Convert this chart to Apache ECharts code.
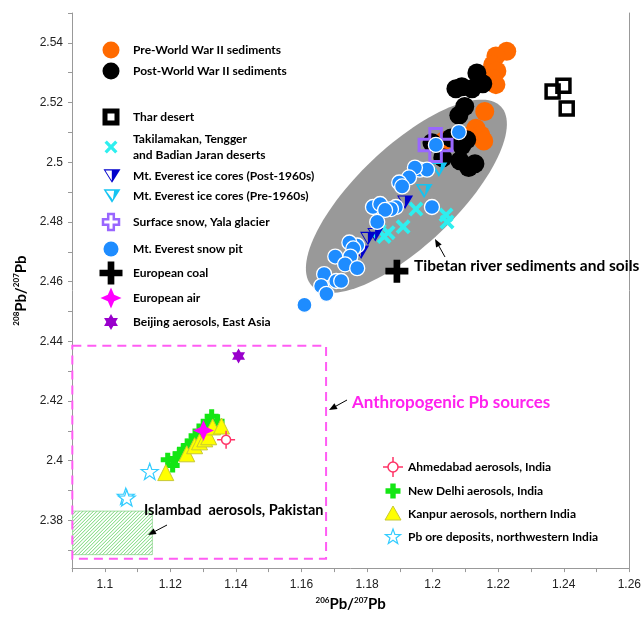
<!DOCTYPE html>
<html>
<head>
<meta charset="utf-8">
<script src="https://cdn.jsdelivr.net/npm/echarts@6/dist/echarts.min.js"></script>
<style>
  html, body { margin: 0; padding: 0; background: #ffffff; }
  #chart { width: 644px; height: 617px; }
</style>
</head>
<body>
<div id="chart"></div>
<script>
// ---- axes -------------------------------------------------------------
const xRange = [1.09, 1.26];
const yRange = [2.364, 2.55];
const xTicks = [1.09, 1.10, 1.11, 1.12, 1.13, 1.14, 1.15, 1.16, 1.17, 1.18, 1.19, 1.20, 1.21, 1.22, 1.23, 1.24, 1.25, 1.26];
const xTickLabels = [1.1, 1.12, 1.14, 1.16, 1.18, 1.2, 1.22, 1.24, 1.26];
const yTicks = [2.37, 2.38, 2.39, 2.40, 2.41, 2.42, 2.43, 2.44, 2.45, 2.46, 2.47, 2.48, 2.49, 2.50, 2.51, 2.52, 2.53, 2.54, 2.55];
const yTickLabels = [2.38, 2.4, 2.42, 2.44, 2.46, 2.48, 2.5, 2.52, 2.54];

// ---- isotope ratios [206Pb/207Pb, 208Pb/207Pb] -------------------------
const preWW2Sediments = [
  [1.2226, 2.5372], [1.2193, 2.5356], [1.2183, 2.5326], [1.2196, 2.5306], [1.2183, 2.5280],
  [1.2193, 2.5260], [1.2159, 2.5170], [1.2132, 2.5114], [1.2147, 2.5091], [1.2156, 2.5071],
  [1.2110, 2.5088], [1.2034, 2.5071]
];
const postWW2Sediments = [
  [1.2071, 2.5246], [1.2089, 2.5253], [1.2135, 2.5299], [1.2153, 2.5263], [1.2120, 2.5246],
  [1.2098, 2.5187], [1.2080, 2.5157], [1.2104, 2.5075], [1.2089, 2.5055], [1.2083, 2.5005],
  [1.2129, 2.4995], [1.2110, 2.4982], [1.2031, 2.5015], [1.1998, 2.5065], [1.2056, 2.5081]
];
const tharDesert = [[1.2399, 2.5256], [1.2366, 2.5237], [1.2409, 2.5180]];
const chineseDeserts = [
  [1.1949, 2.4843], [1.1910, 2.4784], [1.1864, 2.4764], [1.1852, 2.4751],
  [1.2041, 2.4823], [1.2044, 2.4800], [1.1837, 2.4770]
];
const iceCoresPost1960 = [[1.1916, 2.4866], [1.1825, 2.4757], [1.1803, 2.4744], [1.1782, 2.4698]];
const iceCoresPre1960 = [[1.2019, 2.4975], [1.1974, 2.4903]];
const yalaSurfaceSnow = [[1.2009, 2.5058]];
const everestSnowPit = [
  [1.2080, 2.5101], [1.2010, 2.5058], [1.1961, 2.4975], [1.1983, 2.4975], [1.1946, 2.4982],
  [1.1928, 2.4949], [1.1898, 2.4932], [1.1907, 2.4919], [1.1998, 2.4850], [1.1888, 2.4850],
  [1.1873, 2.4843], [1.1818, 2.4850], [1.1840, 2.4860], [1.1855, 2.4840], [1.1831, 2.4800],
  [1.1770, 2.4721], [1.1746, 2.4731], [1.1758, 2.4711], [1.1749, 2.4684], [1.1703, 2.4684],
  [1.1733, 2.4658], [1.1770, 2.4645], [1.1669, 2.4625], [1.1706, 2.4602], [1.1721, 2.4602],
  [1.1660, 2.4585], [1.1676, 2.4559], [1.1609, 2.4522]
];
const europeanCoal = [[1.1891, 2.4635]];
const europeanAir = [[1.1301, 2.4101]];
const beijingAerosols = [[1.1408, 2.4351]];
const ahmedabadAerosols = [[1.1370, 2.4070]];
const newDelhiAerosols = [
  [1.1207, 2.3984], [1.1192, 2.4003], [1.1216, 2.4007], [1.1228, 2.4023], [1.1241, 2.4036],
  [1.1253, 2.4050], [1.1265, 2.4066], [1.1277, 2.4083], [1.1289, 2.4099], [1.1301, 2.4116],
  [1.1314, 2.4132], [1.1326, 2.4149], [1.1344, 2.4132]
];
const kanpurAerosols = [
  [1.1186, 2.3960], [1.1250, 2.4023], [1.1274, 2.4050], [1.1289, 2.4063],
  [1.1305, 2.4073], [1.1317, 2.4080], [1.1329, 2.4113], [1.1356, 2.4116]
];
const pbOreDeposits = [[1.1137, 2.3964], [1.1064, 2.3881], [1.1067, 2.3875]];

// ---- source fields --------------------------------------------------------
const tibetEllipseCenter = [1.1920, 2.4886];
const tibetEllipseMajorTip = [1.2208, 2.5187];
const tibetEllipseMinorTip = [1.1815, 2.5005];
const anthropogenicBoxX = [1.0901, 1.1675];
const anthropogenicBoxY = [2.3671, 2.4385];
const islamabadBoxX = [1.0902, 1.1145];
const islamabadBoxY = [2.3685, 2.3831];

// ---- marker outlines (unit square, y down) -------------------------------
const SHAPES = {
  xMark: [[[-1, -0.64], [-0.64, -1], [0, -0.36], [0.64, -1], [1, -0.64], [0.36, 0], [1, 0.64], [0.64, 1], [0, 0.36], [-0.64, 1], [-1, 0.64], [-0.36, 0]]],
  plusCoal: [[[-0.29, -1], [0.29, -1], [0.29, -0.29], [1, -0.29], [1, 0.29], [0.29, 0.29], [0.29, 1], [-0.29, 1], [-0.29, 0.29], [-1, 0.29], [-1, -0.29], [-0.29, -0.29]]],
  plusWide: [[[-0.35, -1], [0.35, -1], [0.35, -0.35], [1, -0.35], [1, 0.35], [0.35, 0.35], [0.35, 1], [-0.35, 1], [-0.35, 0.35], [-1, 0.35], [-1, -0.35], [-0.35, -0.35]]],
  plusBold: [[[-0.36, -1], [0.36, -1], [0.36, -0.36], [1, -0.36], [1, 0.36], [0.36, 0.36], [0.36, 1], [-0.36, 1], [-0.36, 0.36], [-1, 0.36], [-1, -0.36], [-0.36, -0.36]]],
  triPost: [[[-1, -0.9], [1, -0.9], [0, 0.9]], [[-0.78, -0.75], [-0.02, 0.62], [-0.02, -0.75]]],
  triPre: [[[-1, -0.9], [1, -0.9], [0, 0.9]], [[-0.7, -0.7], [0.1, 0.5], [0.25, -0.7]]],
  star4: [[[0, -1], [0.3, -0.3], [1, 0], [0.3, 0.3], [0, 1], [-0.3, 0.3], [-1, 0], [-0.3, -0.3]]],
  hexagram: [[[0, -1], [0.866, 0.5], [-0.866, 0.5]], [[0, 1], [-0.866, -0.5], [0.866, -0.5]]],
  star5: [[[0, -1], [0.2351, -0.3236], [0.9511, -0.309], [0.3804, 0.1236], [0.5878, 0.809], [0, 0.4], [-0.5878, 0.809], [-0.3804, 0.1236], [-0.9511, -0.309], [-0.2351, -0.3236]]]
};
function toSymbol(polys) {
  return 'path://' + polys.map(function (p) {
    return 'M' + p.map(function (pt) { return pt[0] + ',' + pt[1]; }).join(' L') + ' Z';
  }).join(' ');
}
const crosshairCircle = 'path://M-5,0 A5,5 0 1,1 5,0 A5,5 0 1,1 -5,0 Z M-10,0 L-5,0 M5,0 L10,0 M0,-10 L0,-5 M0,5 L0,10';

const C = {
  orange: '#FF6A00', black: '#000000', cyan: '#2EEFEF', navy: '#0000CC', sky: '#14C4F2',
  lilac: '#9966FF', blue: '#1E8CFF', magenta: '#FF00FF', purple: '#9900CC',
  crimson: '#FF3366', green: '#14E614', yellow: '#FFFF00', ore: '#33CCFF'
};

function scatter(name, data, symbol, size, itemStyle) {
  return {
    type: 'scatter', name: name, data: data, symbol: symbol, symbolSize: size,
    symbolKeepAspect: true, itemStyle: Object.assign({ opacity: 1 }, itemStyle), z: 3, silent: true
  };
}

const chart = echarts.init(document.getElementById('chart'), null, { renderer: 'canvas' });

const tickFont = { fontFamily: 'Liberation Sans', fontSize: 12, color: '#222' };
const nameRich = {
  sup: { fontFamily: 'Lato', fontWeight: 'bold', fontSize: 8, lineHeight: 9, verticalAlign: 'top', color: '#000' },
  b: { fontFamily: 'Lato', fontWeight: 'bold', fontSize: 15, lineHeight: 17, color: '#000' }
};

// ---- legend (drawn as graphics) -------------------------------------------
const legendFont = 'bold 12px Lato';
function label(x, y, text, font, color) {
  return { type: 'text', z: 100, silent: true,
    style: { x: x, y: y, text: text, font: font || legendFont, fill: color || '#000',
      textAlign: 'left', textVerticalAlign: 'middle', align: 'left', verticalAlign: 'middle', lineHeight: 16 } };
}
function polyIcon(polys, cx, cy, w, h, fills, stroke, lw) {
  return polys.map(function (p, i) {
    return { type: 'polygon', z: 100, silent: true,
      shape: { points: p.map(function (pt) { return [cx + pt[0] * w / 2, cy + pt[1] * h / 2]; }) },
      style: { fill: fills[Math.min(i, fills.length - 1)], stroke: stroke || null, lineWidth: lw || 0 } };
  });
}
function circleIcon(cx, cy, r, fill, stroke, lw) {
  return { type: 'circle', z: 100, silent: true, shape: { cx: cx, cy: cy, r: r },
    style: { fill: fill, stroke: stroke || null, lineWidth: lw || 0 } };
}
function arrow(x1, y1, x2, y2) {
  const a = Math.atan2(y2 - y1, x2 - x1), L = 8, W = 3.2;
  const bx = x2 - L * Math.cos(a), by = y2 - L * Math.sin(a);
  return [
    { type: 'line', z: 100, silent: true, shape: { x1: x1, y1: y1, x2: bx, y2: by }, style: { stroke: '#000', lineWidth: 1 } },
    { type: 'polygon', z: 100, silent: true,
      shape: { points: [[x2, y2], [bx + W * Math.sin(a), by - W * Math.cos(a)], [bx - W * Math.sin(a), by + W * Math.cos(a)]] },
      style: { fill: '#000' } }
  ];
}

const LX = 111, TX = 133, RX = 393, RTX = 408;
let graphics = [];
graphics.push(circleIcon(LX, 50, 8.5, C.orange), label(TX, 50, 'Pre-World War II sediments'));
graphics.push(circleIcon(LX, 71, 8.5, C.black), label(TX, 71, 'Post-World War II sediments'));
graphics.push({ type: 'rect', z: 100, silent: true, shape: { x: LX - 6, y: 117 - 6, width: 12, height: 12 },
  style: { fill: '#fff', stroke: '#000', lineWidth: 5 } }, label(TX, 117, 'Thar desert'));
graphics = graphics.concat(polyIcon(SHAPES.xMark, LX, 147, 13, 13, [C.cyan]));
graphics.push(label(TX, 147, 'Takilamakan, Tengger\nand Badian Jaran deserts'));
graphics = graphics.concat(polyIcon(SHAPES.triPost, LX + 1, 176, 17, 15, [C.navy, '#fff']));
graphics.push(label(TX, 176, 'Mt. Everest ice cores (Post-1960s)'));
graphics = graphics.concat(polyIcon(SHAPES.triPre, LX + 1, 196, 17, 15, [C.sky, '#fff']));
graphics.push(label(TX, 196, 'Mt. Everest ice cores (Pre-1960s)'));
graphics = graphics.concat(polyIcon(SHAPES.plusWide, LX, 222, 16, 16, ['#fff'], C.lilac, 2.5));
graphics.push(label(TX, 222, 'Surface snow, Yala glacier'));
graphics.push(circleIcon(LX, 249, 7.5, C.blue), label(TX, 249, 'Mt. Everest snow pit'));
graphics = graphics.concat(polyIcon(SHAPES.plusCoal, LX, 273, 23, 23, [C.black]));
graphics.push(label(TX, 273, 'European coal'));
graphics = graphics.concat(polyIcon(SHAPES.star4, LX, 298, 21, 21, [C.magenta]));
graphics.push(label(TX, 298, 'European air'));
graphics = graphics.concat(polyIcon(SHAPES.hexagram, LX, 322, 16, 16, [C.purple, C.purple]));
graphics.push(label(TX, 322, 'Beijing aerosols, East Asia'));

graphics.push(circleIcon(RX, 467, 5, '#fff', C.crimson, 1.5),
  { type: 'line', z: 100, silent: true, shape: { x1: RX - 10, y1: 467, x2: RX - 5, y2: 467 }, style: { stroke: C.crimson, lineWidth: 1.5 } },
  { type: 'line', z: 100, silent: true, shape: { x1: RX + 5, y1: 467, x2: RX + 10, y2: 467 }, style: { stroke: C.crimson, lineWidth: 1.5 } },
  { type: 'line', z: 100, silent: true, shape: { x1: RX, y1: 457, x2: RX, y2: 462 }, style: { stroke: C.crimson, lineWidth: 1.5 } },
  { type: 'line', z: 100, silent: true, shape: { x1: RX, y1: 472, x2: RX, y2: 477 }, style: { stroke: C.crimson, lineWidth: 1.5 } },
  label(RTX, 467, 'Ahmedabad aerosols, India'));
graphics = graphics.concat(polyIcon(SHAPES.plusBold, RX, 491, 15, 15, [C.green]));
graphics.push(label(RTX, 491, 'New Delhi aerosols, India'));
graphics.push({ type: 'polygon', z: 100, silent: true, shape: { points: [[RX, 506], [RX + 8, 520], [RX - 8, 520]] },
  style: { fill: C.yellow, stroke: '#C8C832', lineWidth: 1 } }, label(RTX, 514, 'Kanpur aerosols, northern India'));
graphics = graphics.concat(polyIcon(SHAPES.star5, RX, 537, 16, 16, ['#fff'], C.ore, 1.2));
graphics.push(label(RTX, 537, 'Pb ore deposits, northwestern India'));

// annotations
graphics.push(label(414, 266, 'Tibetan river sediments and soils', 'bold 15.5px Lato'));
graphics = graphics.concat(arrow(445, 257, 435, 239));
graphics.push(label(352, 403, 'Anthropogenic Pb sources', 'bold 17px Lato', '#FF22EE'));
graphics = graphics.concat(arrow(347, 400, 329, 410));
graphics.push(label(144, 510, 'Islambad  aerosols, Pakistan', 'bold 14.5px Lato'));
graphics = graphics.concat(arrow(167, 525, 148, 535));

// ---- series ---------------------------------------------------------------
const series = [
  {
    type: 'custom', name: 'Tibetan river sediments and soils', z: 1, silent: true,
    data: [tibetEllipseCenter],
    renderItem: function (params, api) {
      const c = api.coord(tibetEllipseCenter);
      const a = api.coord(tibetEllipseMajorTip);
      const b = api.coord(tibetEllipseMinorTip);
      const pts = [];
      for (let i = 0; i < 120; i++) {
        const t = i / 120 * Math.PI * 2;
        pts.push([
          c[0] + Math.cos(t) * (a[0] - c[0]) + Math.sin(t) * (b[0] - c[0]),
          c[1] + Math.cos(t) * (a[1] - c[1]) + Math.sin(t) * (b[1] - c[1])
        ]);
      }
      return { type: 'polygon', shape: { points: pts }, style: { fill: '#999999' } };
    }
  },
  {
    type: 'custom', name: 'Anthropogenic Pb sources', z: 4, silent: true,
    data: [[anthropogenicBoxX[0], anthropogenicBoxY[0]]],
    renderItem: function (params, api) {
      const p0 = api.coord([anthropogenicBoxX[0], anthropogenicBoxY[1]]);
      const p1 = api.coord([anthropogenicBoxX[1], anthropogenicBoxY[0]]);
      return { type: 'rect', shape: { x: p0[0], y: p0[1], width: p1[0] - p0[0], height: p1[1] - p0[1] },
        style: { fill: null, stroke: '#FF5CF4', lineWidth: 2, lineDash: [9, 6] } };
    }
  },
  {
    type: 'custom', name: 'Islambad aerosols, Pakistan', z: 1, silent: true,
    data: [[islamabadBoxX[0], islamabadBoxY[0]]],
    renderItem: function (params, api) {
      const p0 = api.coord([islamabadBoxX[0], islamabadBoxY[1]]);
      const p1 = api.coord([islamabadBoxX[1], islamabadBoxY[0]]);
      const x0 = p0[0], y0 = p0[1], x1 = p1[0], y1 = p1[1];
      const children = [{ type: 'rect', shape: { x: x0, y: y0, width: x1 - x0, height: y1 - y0 },
        style: { fill: '#fff', stroke: '#A6DCA6', lineWidth: 1 } }];
      for (let s = x0 + y0 + 3.5; s < x1 + y1; s += 3.5) {
        const xs = Math.max(x0, s - y1), xe = Math.min(x1, s - y0);
        if (xe > xs) {
          children.push({ type: 'line', shape: { x1: xs, y1: s - xs, x2: xe, y2: s - xe },
            style: { stroke: '#74D874', lineWidth: 1 } });
        }
      }
      return { type: 'group', children: children };
    }
  },
  scatter('Pre-World War II sediments', preWW2Sediments, 'circle', 19, { color: C.orange }),
  scatter('Post-World War II sediments', postWW2Sediments, 'circle', 19, { color: C.black }),
  scatter('Thar desert', tharDesert, 'rect', 13, { color: 'rgba(0,0,0,0)', borderColor: '#000', borderWidth: 3.5 }),
  scatter('Takilamakan, Tengger and Badian Jaran deserts', chineseDeserts, toSymbol(SHAPES.xMark), 15, { color: C.cyan }),
  scatter('Mt. Everest ice cores (Post-1960s)', iceCoresPost1960, toSymbol(SHAPES.triPost), [16, 15], { color: C.navy }),
  scatter('Mt. Everest ice cores (Pre-1960s)', iceCoresPre1960, toSymbol(SHAPES.triPre), [17, 16], { color: C.sky }),
  scatter('Surface snow, Yala glacier', yalaSurfaceSnow, toSymbol(SHAPES.plusWide), 33, { color: 'rgba(0,0,0,0)', borderColor: C.lilac, borderWidth: 3 }),
  scatter('Mt. Everest snow pit', everestSnowPit, 'circle', 15, { color: C.blue, borderColor: '#fff', borderWidth: 1.3 }),
  scatter('European coal', europeanCoal, toSymbol(SHAPES.plusCoal), 23, { color: C.black }),
  scatter('New Delhi aerosols, India', newDelhiAerosols, toSymbol(SHAPES.plusBold), 14, { color: C.green }),
  scatter('Kanpur aerosols, northern India', kanpurAerosols, 'triangle', 16, { color: C.yellow, borderColor: '#C8C832', borderWidth: 1 }),
  scatter('Ahmedabad aerosols, India', ahmedabadAerosols, crosshairCircle, 18, { color: '#fff', borderColor: C.crimson, borderWidth: 1.5 }),
  scatter('Pb ore deposits, northwestern India', pbOreDeposits, toSymbol(SHAPES.star5), 17, { color: '#fff', borderColor: C.ore, borderWidth: 1.2 }),
  scatter('European air', europeanAir, toSymbol(SHAPES.star4), 21, { color: C.magenta }),
  scatter('Beijing aerosols, East Asia', beijingAerosols, toSymbol(SHAPES.hexagram), 15, { color: C.purple })
];

chart.setOption({
  animation: false,
  backgroundColor: '#ffffff',
  grid: { left: 72, right: 13, top: 13, bottom: 42, containLabel: false },
  xAxis: {
    type: 'value', min: xRange[0], max: xRange[1],
    name: '{sup|206}{b|Pb/}{sup|207}{b|Pb}', nameLocation: 'middle', nameGap: 26,
    nameTextStyle: { rich: nameRich },
    axisLine: { show: true, lineStyle: { color: '#999', width: 1 } },
    axisTick: { show: true, length: 4, inside: false, lineStyle: { color: '#999' }, customValues: xTicks },
    axisLabel: { customValues: xTickLabels, margin: 11, ...tickFont },
    splitLine: { show: false }
  },
  yAxis: [
    {
      type: 'value', min: yRange[0], max: yRange[1],
      name: '{sup|208}{b|Pb/}{sup|207}{b|Pb}', nameLocation: 'middle', nameGap: 37, nameRotate: 90,
      nameTextStyle: { rich: nameRich },
      axisLine: { show: true, lineStyle: { color: '#999', width: 1 } },
      axisTick: { show: true, length: 4, inside: false, lineStyle: { color: '#999' }, customValues: yTicks },
      axisLabel: { customValues: yTickLabels, margin: 9, ...tickFont },
      splitLine: { show: false }
    },
    {
      type: 'value', min: yRange[0], max: yRange[1], position: 'right',
      axisLine: { show: true, lineStyle: { color: '#999', width: 1 } },
      axisTick: { show: false }, axisLabel: { show: false }, splitLine: { show: false }
    }
  ],
  graphic: { elements: graphics },
  series: series
});
</script>
</body>
</html>
